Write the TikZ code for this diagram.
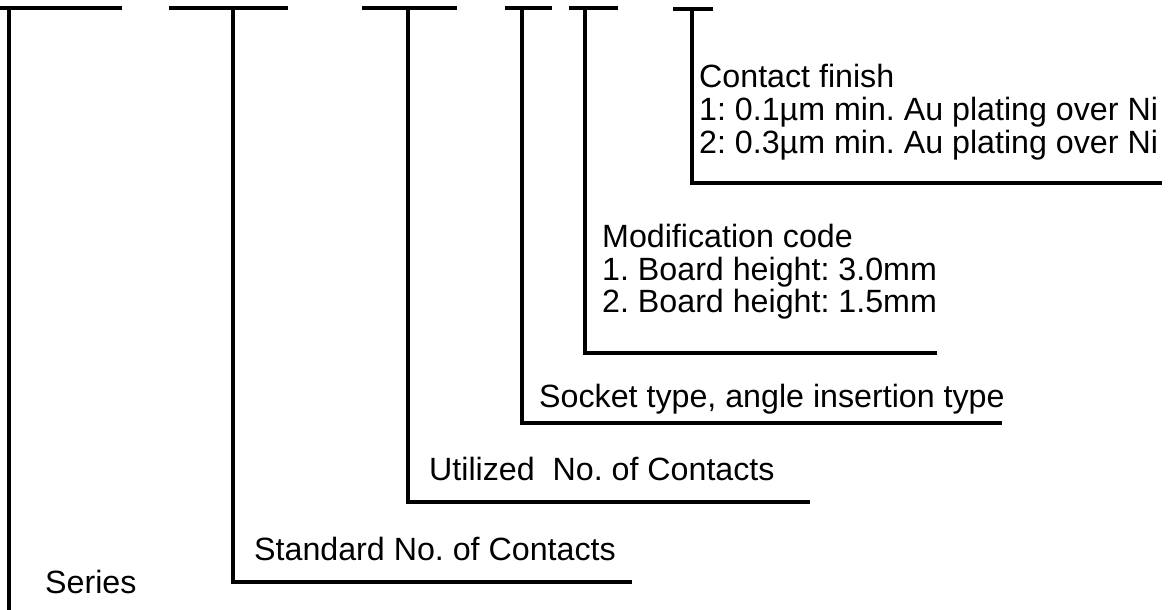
\documentclass[tikz,border=0pt]{standalone}
\usepackage{fontspec}
\setmainfont{Liberation Sans}
\usetikzlibrary{positioning}
\frenchspacing

\begin{document}
\begin{tikzpicture}[x=1pt, y=-1pt, line join=miter,
  codebar/.style={line width=3.4pt},
  leader/.style={line width=3.2pt},
  desc/.style={anchor=base west, inner sep=0pt, font=\fontsize{32.2}{32.5}\selectfont}]
  \useasboundingbox (0,0) rectangle (1168,610);

  % underlines of the part number fields
  \coordinate (ser-l) at (0,8);   \coordinate (ser-r) at (122,8);
  \coordinate (std-l) at (169,8); \coordinate (std-r) at (288,8);
  \coordinate (utl-l) at (362,8); \coordinate (utl-r) at (457,8);
  \coordinate (skt-l) at (505,8); \coordinate (skt-r) at (552,8);
  \coordinate (mod-l) at (569,8); \coordinate (mod-r) at (618,8);
  \coordinate (fin-l) at (673,9); \coordinate (fin-r) at (713,9);
  \foreach \f in {ser,std,utl,skt,mod,fin}
    \draw[codebar] (\f-l) -- (\f-r);

  % where each leader starts and ends
  \coordinate (ser-t) at (9,8);   \coordinate (ser-e) at (9,616);
  \coordinate (std-t) at (233,8); \coordinate (std-e) at (632,582);
  \coordinate (utl-t) at (408,8); \coordinate (utl-e) at (810,502);
  \coordinate (skt-t) at (522,8); \coordinate (skt-e) at (1002,423);
  \coordinate (mod-t) at (585,8); \coordinate (mod-e) at (937,353);
  \coordinate (fin-t) at (692,9); \coordinate (fin-e) at (1162,183);

  % descriptions
  \node[desc] (ser) at (45,593) {Series};
  \node[desc] (std) at (254,560) {Standard No. of Contacts};
  \node[desc] (utl) at (429,480) {Utilized~~No. of Contacts};
  \node[desc] (skt) at (539,407) {Socket type, angle insertion type};
  \node[desc] (mod) at (602,247) {Modification code};
  \node[desc] (mod1) at (602,280) {1. Board height: 3.0mm};
  \node[desc] (mod2) at (602,312) {2. Board height: 1.5mm};
  \node[desc] (fin) at (699,88) {Contact finish};
  \node[desc] (fin1) at (699,121) {1: 0.1µm min. Au plating over Ni};
  \node[desc] (fin2) at (699,153) {2: 0.3µm min. Au plating over Ni};

  % leaders
  \draw[leader] (ser-t) -- (ser-e);
  \foreach \f in {std,utl,skt,mod,fin}
    \draw[leader] (\f-t) |- (\f-e);
\end{tikzpicture}
\end{document}
